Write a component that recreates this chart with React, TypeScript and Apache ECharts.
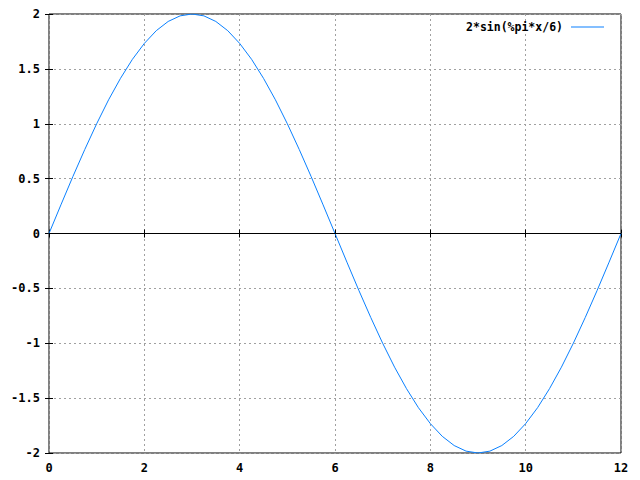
import React, { useEffect, useRef } from "react";
import * as echarts from "echarts";

const xValues = [
  0, 0.25, 0.5, 0.75, 1, 1.25, 1.5, 1.75, 2, 2.25, 2.5, 2.75, 3, 3.25, 3.5, 3.75, 4, 4.25, 4.5, 4.75, 5, 5.25, 5.5, 5.75, 6,
  6.25, 6.5, 6.75, 7, 7.25, 7.5, 7.75, 8, 8.25, 8.5, 8.75, 9, 9.25, 9.5, 9.75, 10, 10.25, 10.5, 10.75, 11, 11.25, 11.5, 11.75, 12,
];
const yValues = [
  0, 0.261, 0.518, 0.765, 1.0, 1.218, 1.414, 1.587, 1.732, 1.848, 1.932, 1.983, 2.0, 1.983, 1.932, 1.848, 1.732, 1.587, 1.414,
  1.218, 1.0, 0.765, 0.518, 0.261, 0, -0.261, -0.518, -0.765, -1.0, -1.218, -1.414, -1.587, -1.732, -1.848, -1.932, -1.983, -2.0,
  -1.983, -1.932, -1.848, -1.732, -1.587, -1.414, -1.218, -1.0, -0.765, -0.518, -0.261, 0,
];
const seriesName = "2*sin(%pi*x/6)";

const FONT = "DejaVu Sans Mono";

export default function App() {
  const ref = useRef<HTMLDivElement>(null);
  useEffect(() => {
    if (!ref.current) return;
    const chart = echarts.init(ref.current, null, { renderer: "svg" });
    const labelStyle = { color: "#000", fontFamily: FONT, fontWeight: "bold" as const, fontSize: 12 };
    const gridLine = { show: true, lineStyle: { color: "#a0a0a0", type: [2, 3] as any, width: 1 } };
    const tick = { show: true, inside: true, length: 4, lineStyle: { color: "#000", width: 1 } };
    chart.setOption({
      animation: false,
      backgroundColor: "#fff",
      grid: { left: 49, right: 19, top: 14, bottom: 27, show: true, borderColor: "#000", borderWidth: 1, backgroundColor: "transparent" },
      legend: {
        show: true,
        right: 31,
        top: 16,
        align: "right",
        itemWidth: 33,
        itemHeight: 1,
        icon: "rect",
        textStyle: { ...labelStyle, fontSize: 11.5, padding: [0, 3, 0, 0] },
        data: [{ name: seriesName, icon: "rect" }],
      },
      xAxis: [
        {
          type: "value",
          min: 0,
          max: 12,
          interval: 2,
          position: "bottom",
          axisLine: { show: false },
          axisTick: tick,
          axisLabel: { ...labelStyle, margin: 9 },
          splitLine: gridLine,
        },
        {
          type: "value",
          min: 0,
          max: 12,
          interval: 2,
          position: "top",
          axisLine: { show: false },
          axisTick: tick,
          axisLabel: { show: false },
          splitLine: { show: false },
        },
      ],
      yAxis: [
        {
          type: "value",
          min: -2,
          max: 2,
          interval: 0.5,
          position: "left",
          axisLine: { show: false },
          axisTick: tick,
          axisLabel: { ...labelStyle, margin: 9 },
          splitLine: gridLine,
        },
        {
          type: "value",
          min: -2,
          max: 2,
          interval: 0.5,
          position: "right",
          axisLine: { show: false },
          axisTick: tick,
          axisLabel: { show: false },
          splitLine: { show: false },
        },
      ],
      series: [
        {
          name: seriesName,
          type: "line",
          xAxisIndex: 0,
          yAxisIndex: 0,
          data: xValues.map((x, i) => [x, yValues[i]]),
          showSymbol: false,
          smooth: false,
          lineStyle: { color: "#0a80ff", width: 1 },
          itemStyle: { color: "#0a80ff" },
          markLine: {
            silent: true,
            symbol: "none",
            label: { show: false },
            lineStyle: { color: "#000", type: "solid", width: 1 },
            data: [{ yAxis: 0 }],
          },
          z: 3,
        },
      ],
    });
    return () => chart.dispose();
  }, []);
  return <div ref={ref} style={{ width: 640, height: 480, position: "absolute", left: 0, top: 0 }} />;
}
